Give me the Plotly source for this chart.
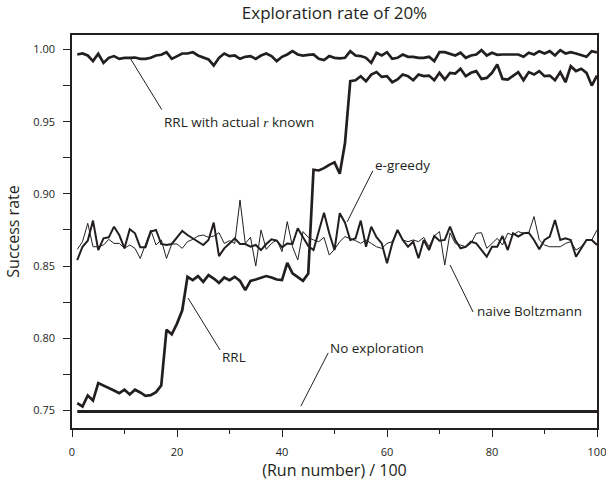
import plotly.graph_objects as go

runs = list(range(1, 101))

rrl_actual_known = [
    0.9965, 0.9972, 0.9958, 0.9919, 0.9970, 0.9907, 0.9942, 0.9954, 0.9935, 0.9942,
    0.9942, 0.9944, 0.9935, 0.9935, 0.9942, 0.9958, 0.9963, 0.9981, 0.9935, 0.9954,
    0.9972, 0.9972, 0.9981, 0.9958, 0.9942, 0.9931, 0.9889, 0.9942, 0.9972, 0.9954,
    0.9958, 0.9935, 0.9949, 0.9954, 0.9935, 0.9958, 0.9972, 0.9954, 0.9919, 0.9949,
    0.9965, 0.9988, 0.9965, 0.9958, 0.9963, 0.9965, 0.9935, 0.9926, 0.9954, 0.9942,
    0.9938, 0.9942, 0.9988, 0.9958, 0.9954, 0.9942, 0.9907, 0.9977, 0.9958, 0.9981,
    0.9935, 0.9942, 0.9965, 0.9949, 0.9949, 0.9942, 0.9942, 0.9949, 0.9919, 0.9981,
    0.9981, 0.9972, 0.9958, 0.9977, 0.9942, 0.9958, 0.9965, 0.9995, 0.9958, 0.9977,
    0.9963, 0.9965, 0.9965, 0.9965, 0.9965, 0.9949, 0.9977, 0.9965, 0.9988, 0.9972,
    0.9988, 0.9958, 0.9995, 0.9972, 0.9981, 0.9972, 0.9958, 0.9949, 0.9988, 0.9980,
]

rrl = [
    0.7551, 0.7528, 0.7604, 0.7569, 0.7690, 0.7674, 0.7657, 0.7639, 0.7620, 0.7644,
    0.7611, 0.7644, 0.7625, 0.7602, 0.7606, 0.7627, 0.7674, 0.8060, 0.8028, 0.8102,
    0.8194, 0.8426, 0.8403, 0.8431, 0.8391, 0.8438, 0.8414, 0.8384, 0.8421, 0.8403,
    0.8426, 0.8398, 0.8333, 0.8398, 0.8407, 0.8421, 0.8431, 0.8421, 0.8407, 0.8403,
    0.8523, 0.8449, 0.8426, 0.8398, 0.8449, 0.9167, 0.9162, 0.9178, 0.9201, 0.9218,
    0.9139, 0.9352, 0.9780, 0.9787, 0.9815, 0.9780, 0.9826, 0.9843, 0.9810, 0.9815,
    0.9773, 0.9792, 0.9826, 0.9815, 0.9787, 0.9826, 0.9815, 0.9819, 0.9787, 0.9838,
    0.9792, 0.9838, 0.9833, 0.9866, 0.9815, 0.9838, 0.9850, 0.9796, 0.9803, 0.9838,
    0.9896, 0.9796, 0.9792, 0.9815, 0.9843, 0.9787, 0.9843, 0.9826, 0.9850, 0.9815,
    0.9819, 0.9787, 0.9843, 0.9773, 0.9884, 0.9850, 0.9866, 0.9838, 0.9750, 0.9819,
]

e_greedy = [
    0.8542, 0.8634, 0.8676, 0.8815, 0.8611, 0.8692, 0.8699, 0.8773, 0.8715, 0.8623,
    0.8755, 0.8727, 0.8630, 0.8630, 0.8739, 0.8750, 0.8653, 0.8646, 0.8653, 0.8699,
    0.8743, 0.8715, 0.8692, 0.8669, 0.8646, 0.8681, 0.8801, 0.8569, 0.8623, 0.8657,
    0.8692, 0.8653, 0.8653, 0.8634, 0.8646, 0.8611, 0.8653, 0.8685, 0.8676, 0.8630,
    0.8657, 0.8653, 0.8762, 0.8699, 0.8639, 0.8611, 0.8750, 0.8870, 0.8727, 0.8611,
    0.8866, 0.8800, 0.8681, 0.8692, 0.8815, 0.8634, 0.8773, 0.8700, 0.8657, 0.8519,
    0.8657, 0.8750, 0.8681, 0.8634, 0.8669, 0.8554, 0.8681, 0.8611, 0.8708, 0.8676,
    0.8681, 0.8773, 0.8681, 0.8623, 0.8634, 0.8669, 0.8657, 0.8611, 0.8565, 0.8634,
    0.8634, 0.8708, 0.8611, 0.8727, 0.8704, 0.8727, 0.8731, 0.8681, 0.8616, 0.8681,
    0.8704, 0.8819, 0.8681, 0.8692, 0.8681, 0.8565, 0.8623, 0.8681, 0.8681, 0.8646,
]

naive_boltzmann = [
    0.8616, 0.8669, 0.8796, 0.8634, 0.8634, 0.8646, 0.8685, 0.8657, 0.8657, 0.8623,
    0.8646, 0.8623, 0.8553, 0.8646, 0.8750, 0.8646, 0.8681, 0.8553, 0.8653, 0.8653,
    0.8623, 0.8669, 0.8685, 0.8708, 0.8715, 0.8699, 0.8708, 0.8731, 0.8657, 0.8676,
    0.8657, 0.8958, 0.8657, 0.8699, 0.8500, 0.8750, 0.8616, 0.8657, 0.8681, 0.8600,
    0.8808, 0.8634, 0.8542, 0.8739, 0.8699, 0.8681, 0.8669, 0.8699, 0.8576, 0.8616,
    0.8669, 0.8704, 0.8692, 0.8676, 0.8657, 0.8681, 0.8657, 0.8634, 0.8623, 0.8657,
    0.8669, 0.8750, 0.8681, 0.8669, 0.8681, 0.8669, 0.8699, 0.8634, 0.8708, 0.8739,
    0.8507, 0.8730, 0.8657, 0.8646, 0.8634, 0.8657, 0.8727, 0.8731, 0.8623, 0.8657,
    0.8692, 0.8646, 0.8727, 0.8715, 0.8739, 0.8727, 0.8730, 0.8843, 0.8681, 0.8646,
    0.8634, 0.8634, 0.8634, 0.8657, 0.8669, 0.8611, 0.8634, 0.8681, 0.8681, 0.8750,
]

no_exploration = [
    0.7493, 0.7493, 0.7493, 0.7493, 0.7493, 0.7493, 0.7493, 0.7493, 0.7493, 0.7493,
    0.7493, 0.7493, 0.7493, 0.7493, 0.7493, 0.7493, 0.7493, 0.7493, 0.7493, 0.7493,
    0.7493, 0.7493, 0.7493, 0.7493, 0.7493, 0.7493, 0.7493, 0.7493, 0.7493, 0.7493,
    0.7493, 0.7493, 0.7493, 0.7493, 0.7493, 0.7493, 0.7493, 0.7493, 0.7493, 0.7493,
    0.7493, 0.7493, 0.7493, 0.7493, 0.7493, 0.7493, 0.7493, 0.7493, 0.7493, 0.7493,
    0.7493, 0.7493, 0.7493, 0.7493, 0.7493, 0.7493, 0.7493, 0.7493, 0.7493, 0.7493,
    0.7493, 0.7493, 0.7493, 0.7493, 0.7493, 0.7493, 0.7493, 0.7493, 0.7493, 0.7493,
    0.7493, 0.7493, 0.7493, 0.7493, 0.7493, 0.7493, 0.7493, 0.7493, 0.7493, 0.7493,
    0.7493, 0.7493, 0.7493, 0.7493, 0.7493, 0.7493, 0.7493, 0.7493, 0.7493, 0.7493,
    0.7493, 0.7493, 0.7493, 0.7493, 0.7493, 0.7493, 0.7493, 0.7493, 0.7493, 0.7493,
]

x_ticks = [0, 20, 40, 60, 80, 100]
y_ticks = [0.75, 0.80, 0.85, 0.90, 0.95, 1.00]
y_tick_labels = ["0.75", "0.80", "0.85", "0.90", "0.95", "1.00"]

# label text, label anchor (x, y), leader line (x0, y0) -> (x1, y1)
labels = [
    ("RRL with actual <span style=\"font-family:'Liberation Serif'\"><i>r</i></span> known",
     17.2, 0.9500, 11.0, 0.9944, 17.1, 0.9583),
    ("e-greedy", 57.3, 0.9200, 57.3, 0.9160, 52.4, 0.8806),
    ("naive Boltzmann", 76.8, 0.8189, 72.0, 0.8508, 76.4, 0.8182),
    ("RRL", 28.2, 0.7870, 22.1, 0.8279, 28.2, 0.7919),
    ("No exploration", 48.8, 0.7933, 43.6, 0.7531, 48.8, 0.7899),
]

INK = "#231f20"
FONT = "Open Sans, Noto Sans, sans-serif"

fig = go.Figure()
series = [
    (naive_boltzmann, 1.0),
    (e_greedy, 2.0),
    (rrl_actual_known, 2.7),
    (rrl, 2.7),
    (no_exploration, 3.0),
]
for vals, w in series:
    fig.add_trace(go.Scatter(x=runs, y=vals, mode="lines",
                             line=dict(color=INK, width=w), hoverinfo="skip"))

for text, tx, ty, x0, y0, x1, y1 in labels:
    fig.add_shape(type="line", xref="x", yref="y", x0=x0, y0=y0, x1=x1, y1=y1,
                  line=dict(color=INK, width=1))
    fig.add_annotation(x=tx, y=ty, xref="x", yref="y", text=text, showarrow=False,
                       xanchor="left", yanchor="middle",
                       font=dict(family=FONT, size=13.5, color=INK))

fig.update_layout(
    width=606, height=485,
    margin=dict(l=72, r=9, t=35, b=57, autoexpand=False),
    plot_bgcolor="white", paper_bgcolor="white",
    showlegend=False,
    font=dict(family=FONT, color=INK),
    title=dict(text="Exploration rate of 20%", x=0.5, xref="paper",
               y=1 - 13 / 485, yref="container", yanchor="middle", xanchor="center",
               font=dict(size=17, family=FONT, color=INK)),
)

fig.update_xaxes(
    range=[0, 100], tickvals=x_ticks, ticks="outside", ticklen=7, tickwidth=1,
    tickcolor=INK, showline=True, linecolor=INK, linewidth=1.5, mirror=True,
    showgrid=False, zeroline=False, ticklabelstandoff=6, automargin=False,
    ticklabeloverflow="allow",
    tickfont=dict(size=11, family=FONT, color=INK),
    minor=dict(tickvals=[10, 30, 50, 70, 90], ticks="outside", ticklen=4, tickcolor=INK, showgrid=False),
    title=dict(text="(Run number) / 100", font=dict(size=16, family=FONT, color=INK), standoff=4),
)
fig.update_yaxes(
    range=[0.7379, 1.0100], tickvals=y_ticks, ticktext=y_tick_labels, ticks="outside",
    ticklen=7, tickwidth=1, tickcolor=INK, showline=True, linecolor=INK, linewidth=1.5,
    mirror=True, showgrid=False, zeroline=False, ticklabelstandoff=6, automargin=False,
    tickfont=dict(size=11, family=FONT, color=INK),
    minor=dict(tickvals=[0.775, 0.825, 0.875, 0.925, 0.975], ticks="outside", ticklen=7,
               tickcolor=INK, showgrid=False),
    title=dict(text="Success rate", font=dict(size=16, family=FONT, color=INK), standoff=10),
)

fig.write_html(
    "out.html",
    config={"displayModeBar": False},
    post_script="document.body.style.margin='0';document.body.style.padding='0';"
                "document.body.style.overflow='hidden';",
)
